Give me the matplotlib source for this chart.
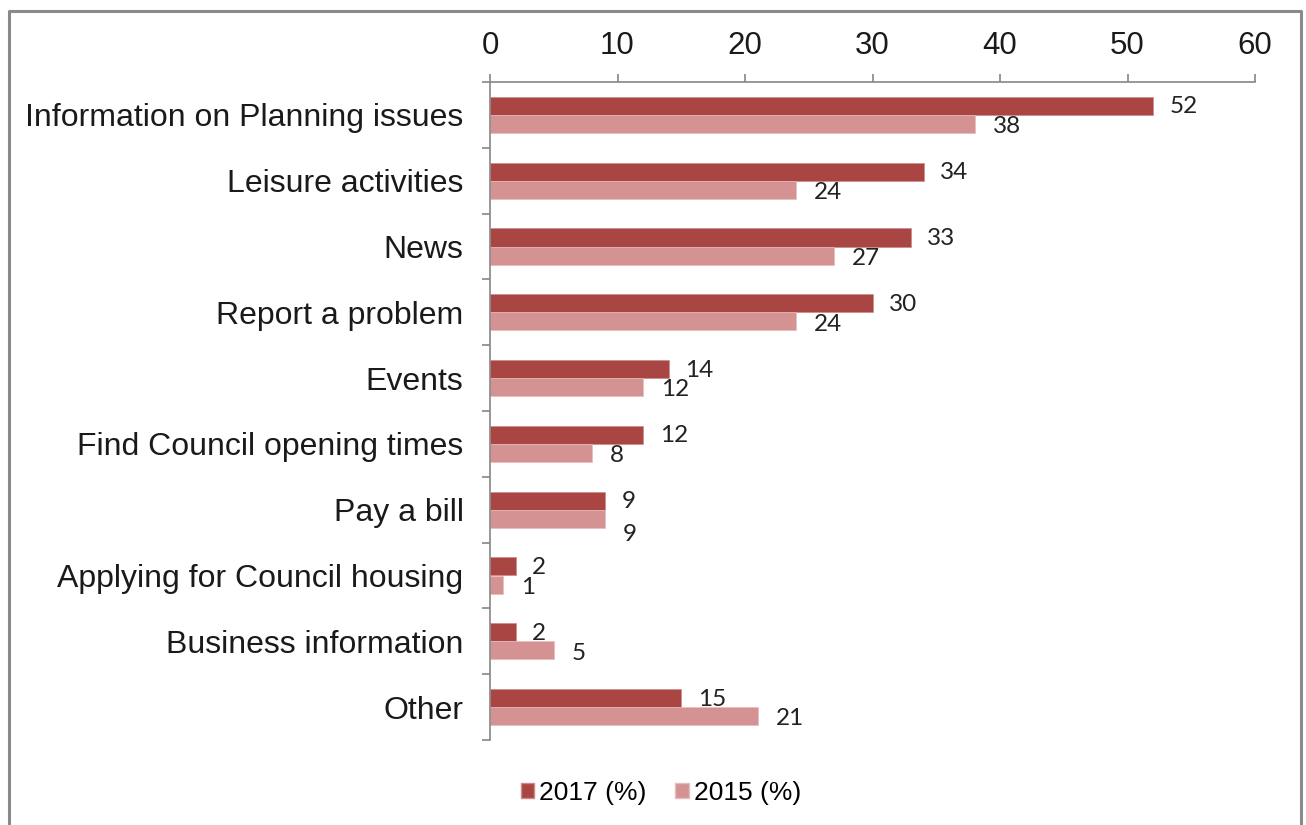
import matplotlib.pyplot as plt
import matplotlib.patches as patches
from matplotlib.lines import Line2D
import numpy as np

# Survey data: what residents use the council website for
categories = [
    "Information on Planning issues",
    "Leisure activities",
    "News",
    "Report a problem",
    "Events",
    "Find Council opening times",
    "Pay a bill",
    "Applying for Council housing",
    "Business information",
    "Other",
]
values_2017 = [52, 34, 33, 30, 14, 12, 9, 2, 2, 15]
values_2015 = [38, 24, 27, 24, 12, 8, 9, 1, 5, 21]
series_names = ["2017 (%)", "2015 (%)"]
x_ticks = [0, 10, 20, 30, 40, 50, 60]

color_2017 = "#A94644"
color_2015 = "#D49292"
axis_gray = "#868686"
text_dark = "#1a1a1a"


def draw_chart():
    fig = plt.figure(figsize=(13.06, 8.25), dpi=100)
    ax = fig.add_axes([490 / 1306, 1 - 740 / 825, 765 / 1306, 658 / 825])

    n = len(categories)
    centers = np.arange(n) + 0.5
    bar_h = 0.274

    ax.barh(centers - bar_h / 2, values_2017, height=bar_h, color=color_2017,
            edgecolor="#c98a89", linewidth=0.5, label=series_names[0])
    ax.barh(centers + bar_h / 2, values_2015, height=bar_h, color=color_2015,
            edgecolor="#e6bcbc", linewidth=0.5, label=series_names[1])

    # value labels to the right of each bar; when both years share a value
    # the lower label is pushed down so the two don't collide
    label_style = dict(textcoords="offset points", ha="left", va="center",
                       fontsize=17.5, family="Lato", color="#222222")
    for c, v17, v15 in zip(centers, values_2017, values_2015):
        ax.annotate(str(v17), (v17, c - bar_h / 2), xytext=(12, -0.8), **label_style)
        dy = -11.5 if v15 == v17 else -2
        ax.annotate(str(v15), (v15, c + bar_h / 2), xytext=(13, dy), **label_style)

    ax.set_xlim(0, 60)
    ax.set_ylim(n, 0)

    # x axis across the top
    ax.xaxis.tick_top()
    ax.set_xticks(x_ticks)
    ax.set_xticklabels([str(t) for t in x_ticks])
    ax.tick_params(axis="x", direction="out", length=6, width=1.2,
                   color=axis_gray, pad=9, labelsize=22.5, labelcolor=text_dark)

    # category labels centred, tick marks at group boundaries
    ax.set_yticks(centers)
    ax.set_yticklabels(categories)
    ax.set_yticks(np.arange(n + 1), minor=True)
    ax.tick_params(axis="y", which="major", length=0, pad=19,
                   labelsize=23, labelcolor=text_dark)
    ax.tick_params(axis="y", which="minor", direction="out", length=6,
                   width=1.2, color=axis_gray)
    for lab in ax.get_xticklabels() + ax.get_yticklabels():
        lab.set_family("Liberation Sans")

    for side in ["right", "bottom"]:
        ax.spines[side].set_visible(False)
    for side in ["top", "left"]:
        ax.spines[side].set_color(axis_gray)
        ax.spines[side].set_linewidth(1.2)

    handles = [patches.Patch(facecolor=color_2017, edgecolor="#c98a89"),
               patches.Patch(facecolor=color_2015, edgecolor="#e6bcbc")]
    fig.legend(handles, series_names, loc="center", bbox_to_anchor=(0.506, 0.039),
               ncol=2, frameon=False, prop={"family": "Liberation Sans", "size": 19},
               handlelength=0.5, handleheight=0.5, handletextpad=0.2,
               columnspacing=1.1)

    # outer chart border (bottom edge runs off the image)
    border = Line2D([9 / 1306, 9 / 1306, 1301 / 1306, 1301 / 1306],
                    [0, 1 - 11 / 825, 1 - 11 / 825, 0],
                    transform=fig.transFigure, color="#8a8a8a", linewidth=2.2)
    fig.add_artist(border)

    fig.savefig("out.png", dpi=100)


if __name__ == "__main__":
    draw_chart()
